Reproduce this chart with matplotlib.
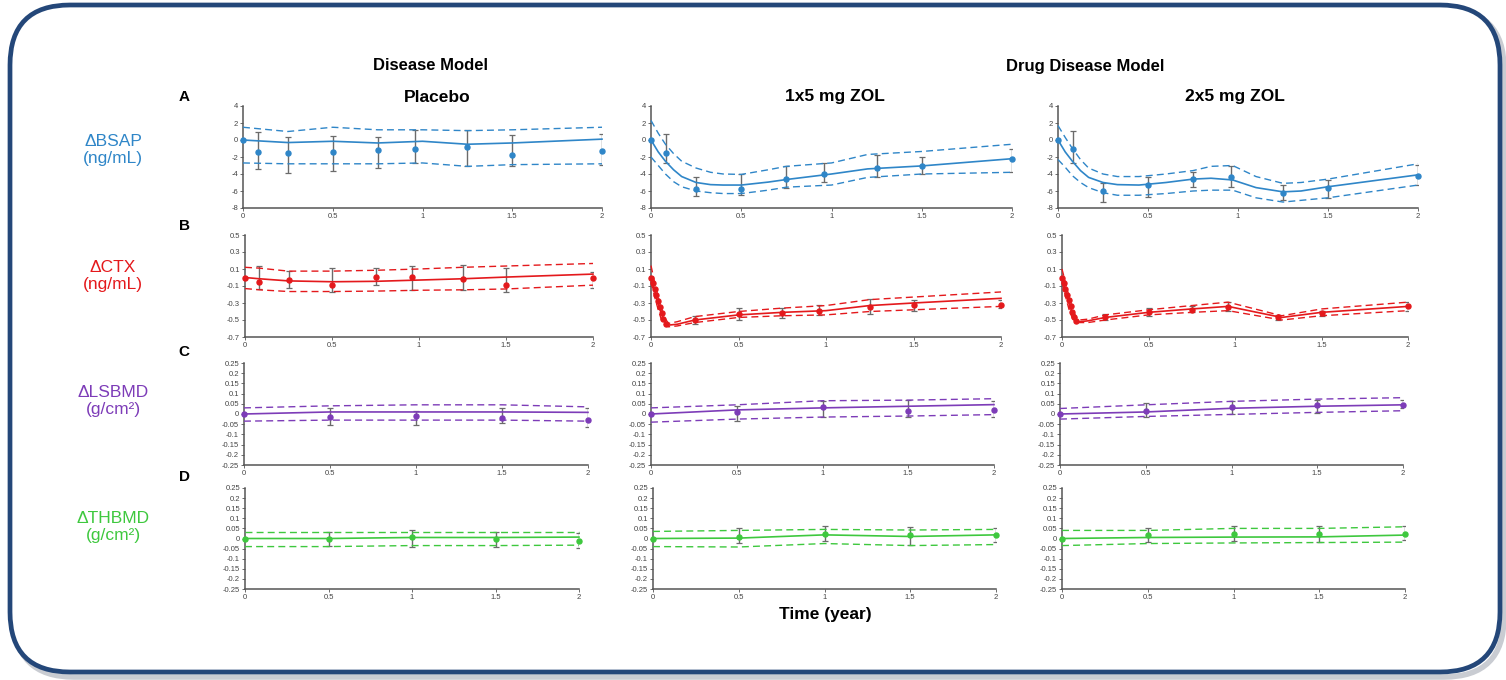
import numpy as np
import matplotlib
matplotlib.use("Agg")
import matplotlib.pyplot as plt
from matplotlib.patches import FancyBboxPatch

plt.rcParams['font.family'] = ['Liberation Sans', 'DejaVu Sans']

nan = np.nan

# ---------------- data ----------------
col_titles = ["Placebo", "1x5 mg ZOL", "2x5 mg ZOL"]
row_letters = ["A", "B", "C", "D"]
row_labels = ["\u0394BSAP\n(ng/mL)", "\u0394CTX\n(ng/mL)", "\u0394LSBMD\n(g/cm\u00b2)", "\u0394THBMD\n(g/cm\u00b2)"]
row_colors = ["#2f86c8", "#e4191c", "#7d3cb8", "#3ec83e"]

bsap_yticks = [4, 2, 0, -2, -4, -6, -8]
ctx_yticks = [0.5, 0.3, 0.1, -0.1, -0.3, -0.5, -0.7]
bmd_yticks = [0.25, 0.2, 0.15, 0.1, 0.05, 0, -0.05, -0.1, -0.15, -0.2, -0.25]
x_ticks = [0, 0.5, 1, 1.5, 2]

# BSAP placebo
bsap_pbo_t = [0, 0.25, 0.5, 0.75, 1.0, 1.25, 1.5, 2.0]
bsap_pbo_pred = [0, -0.3, -0.15, -0.35, -0.15, -0.5, -0.35, 0.1]
bsap_pbo_up = [1.5, 1.0, 1.5, 1.2, 1.2, 1.1, 1.2, 1.5]
bsap_pbo_lo = [-2.7, -2.8, -2.8, -2.8, -2.7, -3.1, -2.9, -2.8]
bsap_obs_t = [0, 0.083, 0.25, 0.5, 0.75, 0.96, 1.25, 1.5, 2.0]
bsap_pbo_obs = [0, -1.4, -1.55, -1.4, -1.2, -1.0, -0.85, -1.75, -1.25]
bsap_pbo_ehi = [nan, 1.0, 0.4, 0.5, 0.3, 1.2, 1.2, 0.6, 0.7]
bsap_pbo_elo = [nan, -3.4, -3.9, -3.7, -3.3, -2.7, -3.0, -3.1, -2.9]

# BSAP 1x5
bsap_1x_t = [0, 0.04, 0.08, 0.125, 0.17, 0.25, 0.33, 0.4, 0.5, 0.65, 0.75, 1.0, 1.2, 1.5, 2.0]
bsap_1x_pred = [0, -1.4, -2.5, -3.5, -4.3, -5.0, -5.25, -5.3, -5.3, -4.95, -4.65, -4.0, -3.4, -3.05, -2.2]
bsap_1x_up = [2.3, 0.8, -0.5, -1.6, -2.5, -3.3, -3.8, -4.0, -4.05, -3.5, -3.1, -2.7, -1.7, -1.35, -0.5]
bsap_1x_lo = [-2.0, -3.0, -4.0, -4.9, -5.5, -6.0, -6.2, -6.3, -6.3, -5.9, -5.55, -5.3, -4.4, -4.0, -3.8]
bsap_1x_obs = [0, -1.55, -5.75, -5.8, -4.6, -4.0, -3.3, -3.05, -2.25]
bsap_1x_ehi = [nan, 0.65, -4.4, -4.0, -3.1, -2.75, -1.75, -1.95, -1.05]
bsap_1x_elo = [nan, -2.75, -6.6, -6.45, -5.65, -4.95, -4.3, -4.0, -3.8]

# BSAP 2x5
bsap_2x_t = [0, 0.04, 0.08, 0.125, 0.17, 0.25, 0.33, 0.45, 0.6, 0.75, 0.85, 0.97, 1.1, 1.25, 1.35, 1.5, 2.0]
bsap_2x_pred = [0, -1.4, -2.5, -3.6, -4.4, -5.0, -5.25, -5.3, -5.0, -4.6, -4.5, -4.7, -5.6, -6.1, -6.0, -5.5, -4.1]
bsap_2x_up = [1.7, 0.3, -1.0, -2.3, -3.3, -4.0, -4.3, -4.3, -4.0, -3.6, -3.1, -3.0, -4.3, -5.1, -5.0, -4.6, -2.8]
bsap_2x_lo = [-2.3, -3.2, -4.2, -5.0, -5.6, -6.2, -6.5, -6.5, -6.3, -6.0, -5.9, -5.9, -6.8, -7.3, -7.1, -6.8, -5.3]
bsap_2x_obs = [0, -1.0, -6.05, -5.35, -4.55, -4.4, -6.25, -5.6, -4.2]
bsap_2x_ehi = [nan, 1.05, -5.0, -4.3, -3.8, -3.0, -5.35, -4.7, -2.95]
bsap_2x_elo = [nan, -2.75, -7.3, -6.65, -5.5, -5.5, -7.0, -6.85, -5.35]

# CTX placebo
ctx_pbo_t = [0, 0.083, 0.25, 0.5, 0.75, 1.0, 1.25, 1.5, 2.0]
ctx_pbo_pred = [0, -0.015, -0.04, -0.05, -0.045, -0.03, -0.015, 0.005, 0.04]
ctx_pbo_up = [0.12, 0.11, 0.075, 0.075, 0.085, 0.1, 0.12, 0.135, 0.165]
ctx_pbo_lo = [-0.13, -0.145, -0.165, -0.165, -0.16, -0.15, -0.145, -0.135, -0.09]
ctx_pbo_obs_t = [0, 0.083, 0.25, 0.5, 0.75, 0.96, 1.25, 1.5, 2.0]
ctx_pbo_obs = [0, -0.055, -0.035, -0.085, 0.01, 0.01, -0.015, -0.085, 0.0]
ctx_pbo_ehi = [nan, 0.13, 0.08, 0.11, 0.115, 0.14, 0.145, 0.115, 0.07]
ctx_pbo_elo = [nan, -0.14, -0.125, -0.165, -0.085, -0.145, -0.145, -0.165, -0.125]

# CTX 1x5
ctx_1x_t = [0, 0.02, 0.04, 0.06, 0.08, 0.1, 0.15, 0.25, 0.5, 0.75, 1.0, 1.25, 1.5, 2.0]
ctx_1x_pred = [0, -0.15, -0.3, -0.43, -0.52, -0.56, -0.55, -0.5, -0.44, -0.41, -0.39, -0.33, -0.3, -0.245]
ctx_1x_up = [0.14, -0.05, -0.22, -0.37, -0.48, -0.54, -0.52, -0.46, -0.4, -0.36, -0.33, -0.26, -0.23, -0.17]
ctx_1x_lo = [-0.05, -0.22, -0.37, -0.5, -0.56, -0.58, -0.57, -0.53, -0.47, -0.45, -0.44, -0.4, -0.38, -0.34]
ctx_drug_obs_t = [0, 0.01, 0.02, 0.03, 0.04, 0.05, 0.06, 0.07, 0.083, 0.25, 0.5, 0.75, 0.96, 1.25, 1.5, 2.0]
ctx_1x_obs = [0, -0.06, -0.13, -0.2, -0.28, -0.35, -0.42, -0.49, -0.55, -0.5, -0.43, -0.42, -0.39, -0.35, -0.32, -0.32]
ctx_1x_ehi = [nan] * 9 + [-0.45, -0.36, -0.36, -0.32, -0.25, -0.26, -0.26]
ctx_1x_elo = [nan] * 9 + [-0.55, -0.5, -0.48, -0.445, -0.43, -0.39, -0.36]

# CTX 2x5
ctx_2x_t = [0, 0.02, 0.04, 0.06, 0.08, 0.1, 0.15, 0.25, 0.5, 0.75, 0.96, 1.27, 1.5, 2.0]
ctx_2x_pred = [0, -0.15, -0.3, -0.42, -0.5, -0.52, -0.51, -0.47, -0.41, -0.37, -0.34, -0.47, -0.41, -0.34]
ctx_2x_up = [0.1, -0.06, -0.22, -0.36, -0.46, -0.5, -0.49, -0.44, -0.38, -0.33, -0.29, -0.45, -0.37, -0.29]
ctx_2x_lo = [-0.05, -0.22, -0.37, -0.48, -0.52, -0.53, -0.53, -0.5, -0.44, -0.41, -0.39, -0.5, -0.45, -0.39]
ctx_2x_obs = [0, -0.06, -0.13, -0.2, -0.27, -0.34, -0.41, -0.46, -0.51, -0.465, -0.405, -0.38, -0.345, -0.465, -0.42, -0.34]
ctx_2x_ehi = [nan] * 9 + [-0.43, -0.36, -0.34, -0.29, -0.44, -0.39, -0.29]
ctx_2x_elo = [nan] * 9 + [-0.5, -0.45, -0.41, -0.39, -0.5, -0.45, -0.39]

# BMD times
bmd_t = [0, 0.5, 1.0, 1.5, 2.0]

# LSBMD
ls_pbo_pred = [0, 0.01, 0.01, 0.01, 0.008]
ls_pbo_up = [0.03, 0.04, 0.045, 0.045, 0.035]
ls_pbo_lo = [-0.035, -0.03, -0.03, -0.03, -0.035]
ls_pbo_obs = [0, -0.015, -0.01, -0.02, -0.027]
ls_pbo_ehi = [nan, 0.027, 0.015, 0.027, 0.027]
ls_pbo_elo = [nan, -0.055, -0.055, -0.046, -0.063]

ls_1x_pred = [0, 0.02, 0.03, 0.038, 0.046]
ls_1x_up = [0.03, 0.045, 0.065, 0.068, 0.075]
ls_1x_lo = [-0.04, -0.025, -0.015, -0.01, -0.003]
ls_1x_obs = [0, 0.01, 0.035, 0.014, 0.019]
ls_1x_ehi = [nan, 0.038, 0.064, 0.07, 0.064]
ls_1x_elo = [nan, -0.033, -0.014, -0.014, -0.014]

ls_2x_pred = [0, 0.01, 0.028, 0.038, 0.045]
ls_2x_up = [0.027, 0.045, 0.062, 0.073, 0.08]
ls_2x_lo = [-0.025, -0.012, -0.002, 0.008, 0.016]
ls_2x_obs = [0, 0.015, 0.035, 0.046, 0.046]
ls_2x_ehi = [nan, 0.055, 0.064, 0.068, 0.068]
ls_2x_elo = [nan, -0.014, 0.0, 0.005, 0.027]

# THBMD
th_pbo_pred = [0, 0.0, 0.005, 0.005, 0.007]
th_pbo_up = [0.033, 0.033, 0.033, 0.033, 0.033]
th_pbo_lo = [-0.04, -0.04, -0.035, -0.035, -0.033]
th_pbo_obs = [0, -0.003, 0.008, 0.0, -0.012]
th_pbo_ehi = [nan, 0.033, 0.041, 0.033, 0.028]
th_pbo_elo = [nan, -0.038, -0.041, -0.041, -0.046]

th_1x_pred = [0, 0.002, 0.018, 0.01, 0.018]
th_1x_up = [0.035, 0.04, 0.045, 0.042, 0.045]
th_1x_lo = [-0.04, -0.042, -0.025, -0.035, -0.03]
th_1x_obs = [0, 0.005, 0.021, 0.015, 0.018]
th_1x_ehi = [nan, 0.05, 0.062, 0.059, 0.05]
th_1x_elo = [nan, -0.023, -0.011, -0.031, -0.015]

th_2x_pred = [0, 0.005, 0.007, 0.008, 0.017]
th_2x_up = [0.04, 0.04, 0.05, 0.05, 0.058]
th_2x_lo = [-0.035, -0.025, -0.022, -0.02, -0.018]
th_2x_obs = [0, 0.015, 0.024, 0.024, 0.023]
th_2x_ehi = [nan, 0.05, 0.06, 0.06, 0.06]
th_2x_elo = [nan, -0.018, -0.013, -0.018, -0.008]

panels = [
    [(bsap_pbo_t, bsap_pbo_pred, bsap_pbo_up, bsap_pbo_lo, bsap_obs_t, bsap_pbo_obs, bsap_pbo_ehi, bsap_pbo_elo),
     (bsap_1x_t, bsap_1x_pred, bsap_1x_up, bsap_1x_lo, bsap_obs_t, bsap_1x_obs, bsap_1x_ehi, bsap_1x_elo),
     (bsap_2x_t, bsap_2x_pred, bsap_2x_up, bsap_2x_lo, bsap_obs_t, bsap_2x_obs, bsap_2x_ehi, bsap_2x_elo)],
    [(ctx_pbo_t, ctx_pbo_pred, ctx_pbo_up, ctx_pbo_lo, ctx_pbo_obs_t, ctx_pbo_obs, ctx_pbo_ehi, ctx_pbo_elo),
     (ctx_1x_t, ctx_1x_pred, ctx_1x_up, ctx_1x_lo, ctx_drug_obs_t, ctx_1x_obs, ctx_1x_ehi, ctx_1x_elo),
     (ctx_2x_t, ctx_2x_pred, ctx_2x_up, ctx_2x_lo, ctx_drug_obs_t, ctx_2x_obs, ctx_2x_ehi, ctx_2x_elo)],
    [(bmd_t, ls_pbo_pred, ls_pbo_up, ls_pbo_lo, bmd_t, ls_pbo_obs, ls_pbo_ehi, ls_pbo_elo),
     (bmd_t, ls_1x_pred, ls_1x_up, ls_1x_lo, bmd_t, ls_1x_obs, ls_1x_ehi, ls_1x_elo),
     (bmd_t, ls_2x_pred, ls_2x_up, ls_2x_lo, bmd_t, ls_2x_obs, ls_2x_ehi, ls_2x_elo)],
    [(bmd_t, th_pbo_pred, th_pbo_up, th_pbo_lo, bmd_t, th_pbo_obs, th_pbo_ehi, th_pbo_elo),
     (bmd_t, th_1x_pred, th_1x_up, th_1x_lo, bmd_t, th_1x_obs, th_1x_ehi, th_1x_elo),
     (bmd_t, th_2x_pred, th_2x_up, th_2x_lo, bmd_t, th_2x_obs, th_2x_ehi, th_2x_elo)],
]
row_yticks = [bsap_yticks, ctx_yticks, bmd_yticks, bmd_yticks]

# ---------------- layout (pixels) ----------------
W, H = 1506, 680
row_y = [(106, 208), (235, 337), (363, 465), (488, 589)]
col_x = [
    [(243, 602), (651, 1012), (1058, 1418)],
    [(245, 593), (651, 1001), (1062, 1408)],
    [(244, 588), (651, 994), (1060, 1403)],
    [(245, 579), (653, 996), (1062, 1405)],
]

fig = plt.figure(figsize=(W / 100, H / 100), dpi=100)
fig.patch.set_facecolor("white")

# rounded frame
bg = fig.add_axes([0, 0, 1, 1])
bg.set_xlim(0, W)
bg.set_ylim(H, 0)
bg.axis("off")
shadow = FancyBboxPatch((14, 9), 1490, 668, boxstyle="round,pad=0,rounding_size=60",
                        fc="none", ec="#c9ccd2", lw=4, zorder=0)
bg.add_patch(shadow)
frame = FancyBboxPatch((10, 5), 1490, 667, boxstyle="round,pad=0,rounding_size=60",
                       fc="white", ec="#244779", lw=3.4, zorder=1)
bg.add_patch(frame)

def fx(px):
    return px / W

def fy(py):
    return 1 - py / H

tick_color = "#555555"
for r in range(4):
    y0, y1 = row_y[r]
    color = row_colors[r]
    yt = row_yticks[r]
    for c in range(3):
        x0, x1 = col_x[r][c]
        ax = fig.add_axes([fx(x0), fy(y1), fx(x1) - fx(x0), (y1 - y0) / H])
        ax.set_facecolor("none")
        tm, pred, up, lo, to, obs, ehi, elo = panels[r][c]
        ax.plot(tm, pred, color=color, lw=1.2, zorder=3, clip_on=False)
        ax.plot(tm, up, color=color, lw=1.0, ls=(0, (5, 3)), zorder=3, clip_on=False)
        ax.plot(tm, lo, color=color, lw=1.0, ls=(0, (5, 3)), zorder=3, clip_on=False)
        to_a = np.array(to, float)
        obs_a = np.array(obs, float)
        ehi_a = np.array(ehi, float)
        elo_a = np.array(elo, float)
        m = ~np.isnan(ehi_a)
        ax.errorbar(to_a[m], obs_a[m], yerr=[obs_a[m] - elo_a[m], ehi_a[m] - obs_a[m]],
                    fmt="none", ecolor="#6b6b6b", elinewidth=1.0, capsize=2.5, capthick=0.9, zorder=2)
        ax.plot(to_a, obs_a, "o", color=color, ms=3.6, zorder=4, clip_on=False)
        ax.set_xlim(0, 2)
        ax.set_ylim(yt[-1], yt[0])
        ax.set_xticks(x_ticks)
        ax.set_xticklabels(["0", "0.5", "1", "1.5", "2"])
        ax.set_yticks(yt)
        ax.set_yticklabels([("%g" % v) for v in yt])
        for s in ("top", "right"):
            ax.spines[s].set_visible(False)
        for s in ("left", "bottom"):
            ax.spines[s].set_color(tick_color)
            ax.spines[s].set_linewidth(1.1)
        ax.tick_params(axis="both", length=2, width=0.6, colors=tick_color,
                       labelsize=5.5, pad=1.5, labelcolor="#444444")

# header texts
fig.text(fx(430), fy(66), "Disease Model", ha="center", va="center", fontsize=12, fontweight="bold")
fig.text(fx(1085), fy(66), "Drug Disease Model", ha="center", va="center", fontsize=12, fontweight="bold")
title_x = [437, 835, 1235]
for t, xp in zip(col_titles, title_x):
    fig.text(fx(xp), fy(97), t, ha="center", va="center", fontsize=12.5, fontweight="bold")
letter_y = [97, 226, 352, 477]
for L, yp in zip(row_letters, letter_y):
    fig.text(fx(184), fy(yp), L, ha="center", va="center", fontsize=11, fontweight="bold")
label_y = [150, 276, 401, 527]
for lab, yp, col in zip(row_labels, label_y, row_colors):
    fig.text(fx(113), fy(yp), lab, ha="center", va="center", fontsize=12.5, color=col, linespacing=1.1)
fig.text(fx(825), fy(615), "Time (year)", ha="center", va="center", fontsize=12.5, fontweight="bold")

fig.savefig("out.png", dpi=100)
